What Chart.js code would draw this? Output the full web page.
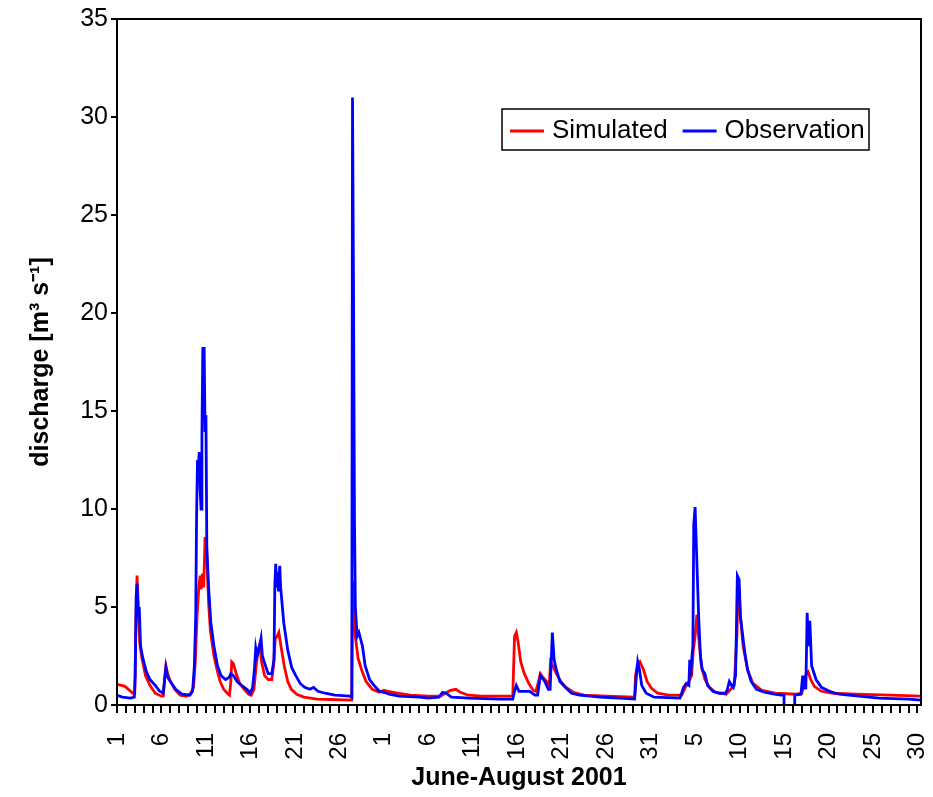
<!DOCTYPE html>
<html lang="en">
<head>
    <meta charset="UTF-8">
    <title>Discharge June-August 2001</title>
    <script src="https://cdn.jsdelivr.net/npm/chart.js"></script>
    <style>
        body { margin: 0; background: #fff; }
    </style>
</head>
<body>

<canvas id="dischargeChart" width="933" height="797"></canvas>

<script>
    // time in days since 1 June 2001 00:00, discharge in m3/s
    const simT = [0, 0.9, 1.8, 2.0, 2.1, 2.25, 2.4, 2.55, 2.8, 3.2, 3.7, 4.3, 5.0, 5.2, 5.35, 5.5, 5.7, 6.0, 6.5, 7.1, 7.8, 8.3, 8.6, 8.8, 9.0, 9.2, 9.35, 9.45, 9.6, 9.75, 9.9, 10.05, 10.15, 10.3, 10.5, 10.9, 11.3, 11.6, 12.0, 12.4, 12.65, 12.8, 12.9, 13.1, 13.4, 13.8, 14.3, 14.8, 15.1, 15.4, 15.6, 15.85, 16.05, 16.25, 16.6, 17.0, 17.4, 17.6, 17.8, 18.0, 18.2, 18.4, 18.8, 19.2, 19.6, 20.2, 21.0, 22.5, 24.0, 26.4, 26.5, 26.65, 26.8, 27.1, 27.5, 28.0, 28.7, 29.5, 30.0, 30.5, 31.5, 33.0, 35.0, 36.4, 36.9, 37.5, 38.1, 38.6, 39.5, 41.0, 44.5, 44.6, 44.7, 44.9, 45.1, 45.4, 45.8, 46.3, 46.8, 47.1, 47.4, 47.6, 47.9, 48.3, 48.6, 48.75, 49.0, 49.4, 49.9, 50.5, 51.3, 52.5, 55.0, 58.2, 58.3, 58.5, 58.8, 59.2, 59.6, 60.1, 60.8, 62.0, 63.5, 63.9, 64.3, 64.6, 64.8, 65.0, 65.2, 65.4, 65.7, 66.1, 66.6, 67.3, 68.5, 69.0, 69.4, 69.7, 69.85, 70.1, 70.4, 70.9, 71.5, 72.5, 74.0, 76.5, 77.0, 77.5, 77.7, 78.0, 78.4, 79.2, 80.5, 83.0, 87.0, 90.4];
    const simQ = [1.05, 0.95, 0.6, 0.6, 3.6, 6.6, 5.0, 3.2, 2.4, 1.5, 1.0, 0.6, 0.45, 0.45, 1.3, 2.0, 1.6, 1.2, 0.8, 0.5, 0.45, 0.6, 0.9, 2.2, 4.5, 6.0, 6.6, 5.9, 6.7, 6.0, 8.5, 8.5, 7.0, 5.2, 3.8, 2.5, 1.7, 1.2, 0.8, 0.6, 0.5, 1.2, 2.2, 2.1, 1.6, 1.1, 0.8, 0.55, 0.5, 0.8, 1.8, 2.8, 3.1, 2.2, 1.5, 1.3, 1.3, 2.0, 3.4, 3.5, 3.7, 3.1, 2.0, 1.2, 0.8, 0.55, 0.4, 0.3, 0.28, 0.25, 6.3, 5.0, 3.5, 2.4, 1.8, 1.2, 0.8, 0.65, 0.75, 0.7, 0.6, 0.5, 0.45, 0.45, 0.6, 0.75, 0.8, 0.65, 0.5, 0.45, 0.45, 2.0, 3.5, 3.7, 3.2, 2.2, 1.6, 1.1, 0.75, 0.7, 1.2, 1.6, 1.4, 1.2, 1.0, 2.2, 2.0, 1.6, 1.2, 0.9, 0.65, 0.5, 0.45, 0.4, 1.5, 2.0, 2.2, 1.8, 1.2, 0.85, 0.6, 0.5, 0.5, 0.9, 1.2, 1.5, 2.8, 3.5, 4.6, 3.5, 2.0, 1.3, 0.9, 0.65, 0.55, 0.8, 1.0, 3.5, 6.3, 4.5, 3.0, 1.8, 1.1, 0.75, 0.6, 0.55, 0.6, 1.6, 1.7, 1.3, 0.95, 0.7, 0.6, 0.55, 0.5, 0.45];

    // observation; null marks the missing stretch in mid August
    const obsT = [0, 0.6, 1.5, 1.95, 2.05, 2.15, 2.25, 2.4, 2.5, 2.65, 2.9, 3.3, 3.7, 4.3, 4.8, 5.2, 5.35, 5.5, 5.7, 6.0, 6.6, 7.3, 8.2, 8.5, 8.7, 8.85, 8.95, 9.05, 9.15, 9.25, 9.35, 9.45, 9.55, 9.65, 9.8, 9.9, 10.0, 10.1, 10.3, 10.55, 10.9, 11.3, 11.7, 12.2, 12.6, 12.8, 13.1, 13.5, 14.0, 14.6, 15.0, 15.25, 15.45, 15.6, 15.75, 15.95, 16.2, 16.35, 16.7, 17.0, 17.4, 17.65, 17.75, 17.85, 17.95, 18.05, 18.15, 18.3, 18.4, 18.75, 19.2, 19.65, 20.1, 20.6, 21.1, 21.7, 22.1, 22.6, 23.4, 24.5, 26.2, 26.4, 26.48, 26.6, 26.7, 26.8, 27.0, 27.2, 27.6, 27.9, 28.4, 28.9, 29.5, 30.0, 30.6, 31.7, 34.0, 35.0, 36.2, 36.6, 37.0, 37.6, 39.6, 43.0, 44.5, 44.7, 44.9, 45.2, 46.4, 47.0, 47.3, 47.6, 48.1, 48.5, 48.7, 48.95, 49.15, 49.4, 49.8, 50.4, 51.1, 52.0, 54.3, 56.5, 58.2, 58.4, 58.55, 58.75, 59.0, 59.5, 60.4, 63.3, 63.7, 64.0, 64.3, 64.4, 64.5, 64.65, 64.75, 64.85, 65.0, 65.15, 65.4, 65.6, 65.8, 66.1, 66.4, 67.0, 67.7, 68.4, 68.6, 68.85, 69.1, 69.3, 69.55, 69.75, 69.95, 70.1, 70.55, 70.9, 71.3, 71.9, 72.8, 73.9, 74.7, 75.0, 75.0, 75.6, 76.2, 76.2, 76.9, 77.1, 77.2, 77.35, 77.45, 77.6, 77.75, 77.9, 78.1, 78.6, 79.2, 80.1, 81.2, 83.4, 85.7, 89.0, 90.4];
    const obsQ = [0.5, 0.4, 0.35, 0.4, 1.5, 5.5, 6.2, 4.5, 5.0, 3.0, 2.4, 1.7, 1.3, 1.0, 0.7, 0.6, 1.3, 1.9, 1.4, 1.2, 0.8, 0.55, 0.5, 0.7, 2.0, 4.5, 9.7, 12.5, 12.2, 12.9, 11.0, 10.0, 13.8, 18.2, 18.2, 14.0, 14.8, 8.0, 6.0, 4.2, 3.0, 2.0, 1.5, 1.3, 1.4, 1.6, 1.5, 1.2, 1.0, 0.8, 0.6, 0.9, 1.8, 2.9, 2.5, 2.8, 3.4, 2.5, 2.0, 1.6, 1.6, 2.3, 6.2, 7.2, 6.0, 6.8, 5.8, 7.1, 6.0, 4.2, 2.8, 1.9, 1.5, 1.1, 0.9, 0.8, 0.9, 0.7, 0.6, 0.5, 0.45, 0.4, 31.0, 20.5, 9.5, 5.0, 3.5, 3.7, 3.0, 2.0, 1.3, 1.0, 0.7, 0.65, 0.55, 0.45, 0.4, 0.35, 0.4, 0.65, 0.6, 0.4, 0.35, 0.3, 0.3, 0.7, 1.0, 0.7, 0.7, 0.5, 0.5, 1.5, 1.2, 0.8, 0.8, 3.7, 2.3, 1.8, 1.2, 0.9, 0.6, 0.5, 0.4, 0.35, 0.3, 1.5, 2.2, 1.8, 1.0, 0.6, 0.4, 0.35, 0.9, 1.1, 1.0, 2.3, 1.5, 2.5, 3.0, 9.2, 10.1, 8.0, 4.5, 2.5, 1.8, 1.6, 1.0, 0.7, 0.6, 0.6, 0.75, 1.2, 1.0, 0.9, 1.5, 6.6, 6.4, 4.5, 2.8, 1.8, 1.2, 0.8, 0.65, 0.55, 0.5, 0.5, -1, null, -1, 0.5, 0.55, 1.5, 0.8, 1.5, 0.8, 4.7, 3.0, 4.3, 2.0, 1.3, 0.9, 0.7, 0.55, 0.45, 0.35, 0.3, 0.25];

    // one label every 5 days: June 1 ... August 30
    const tickLabels = ['1', '6', '11', '16', '21', '26', '1', '6', '11', '16', '21', '26', '31', '5', '10', '15', '20', '25', '30'];

    const FONT = '"Liberation Sans", Arial, sans-serif';
    const toPoints = (xs, ys) => xs.map((x, i) => ({ x: x, y: ys[i] }));

    // black frame round the plot area
    const framePlugin = {
        id: 'frame',
        afterDatasetsDraw(chart) {
            const a = chart.chartArea;
            const ctx = chart.ctx;
            ctx.save();
            ctx.strokeStyle = '#000';
            ctx.lineWidth = 2;
            ctx.strokeRect(a.left, a.top, a.right - a.left, a.bottom - a.top);
            ctx.restore();
        }
    };

    // boxed legend inside the plot, upper right
    const boxLegend = {
        id: 'boxLegend',
        afterDraw(chart) {
            const ctx = chart.ctx;
            ctx.save();
            ctx.fillStyle = '#fff';
            ctx.fillRect(502, 109, 367, 41);
            ctx.strokeStyle = '#000';
            ctx.lineWidth = 1.5;
            ctx.strokeRect(502, 109, 367, 41);
            ctx.font = '26px ' + FONT;
            ctx.textBaseline = 'middle';
            let x = 510;
            chart.data.datasets.forEach(ds => {
                ctx.strokeStyle = ds.borderColor;
                ctx.lineWidth = 3;
                ctx.beginPath();
                ctx.moveTo(x, 131);
                ctx.lineTo(x + 34, 131);
                ctx.stroke();
                ctx.fillStyle = '#000';
                ctx.fillText(ds.label, x + 42, 131);
                x += 42 + ctx.measureText(ds.label).width + 15;
            });
            ctx.restore();
        }
    };

    const ctx = document.getElementById('dischargeChart').getContext('2d');

    new Chart(ctx, {
        type: 'line',
        data: {
            datasets: [{
                label: 'Simulated',
                data: toPoints(simT, simQ),
                borderColor: '#ff0000',
                borderWidth: 2.8,
                pointRadius: 0,
                fill: false,
                order: 1
            }, {
                label: 'Observation',
                data: toPoints(obsT, obsQ),
                borderColor: '#0000ff',
                borderWidth: 2.8,
                pointRadius: 0,
                fill: false,
                spanGaps: false,
                order: 0
            }]
        },
        options: {
            responsive: false,
            animation: false,
            layout: { padding: { top: 19, right: 12, bottom: 0, left: 0 } },
            plugins: {
                legend: { display: false },
                tooltip: { enabled: false }
            },
            scales: {
                x: {
                    type: 'linear',
                    min: 0,
                    max: 90.4,
                    afterFit: s => {
                        s.height = 92;
                        s.paddingLeft = 0;
                        s.paddingRight = 0;
                    },
                    border: { display: true, color: '#000', width: 2 },
                    grid: { drawOnChartArea: false, drawTicks: true, tickLength: 8, color: '#000', lineWidth: 2 },
                    ticks: {
                        stepSize: 1,
                        autoSkip: false,
                        includeBounds: false,
                        minRotation: 90,
                        maxRotation: 90,
                        padding: 20,
                        color: '#000',
                        font: { family: FONT, size: 24 },
                        callback: v => {
                            const d = Math.round(v);
                            return d % 5 === 0 ? tickLabels[d / 5] : '';
                        }
                    },
                    title: {
                        display: true,
                        text: 'June-August 2001',
                        color: '#000',
                        padding: { top: 0, bottom: 4 },
                        font: { family: FONT, size: 25, weight: 'bold' }
                    }
                },
                y: {
                    min: 0,
                    max: 35,
                    afterFit: s => { s.width = 117; },
                    border: { display: true, color: '#000', width: 2 },
                    grid: { drawOnChartArea: false, drawTicks: true, tickLength: 6, color: '#000', lineWidth: 2 },
                    ticks: {
                        stepSize: 5,
                        padding: 3,
                        color: '#000',
                        font: { family: FONT, size: 25 }
                    },
                    title: {
                        display: true,
                        text: 'discharge [m³ s⁻¹]',
                        color: '#000',
                        padding: { top: 26, bottom: 0 },
                        font: { family: FONT, size: 25, weight: 'bold' }
                    }
                }
            }
        },
        plugins: [framePlugin, boxLegend]
    });
</script>

</body>
</html>
